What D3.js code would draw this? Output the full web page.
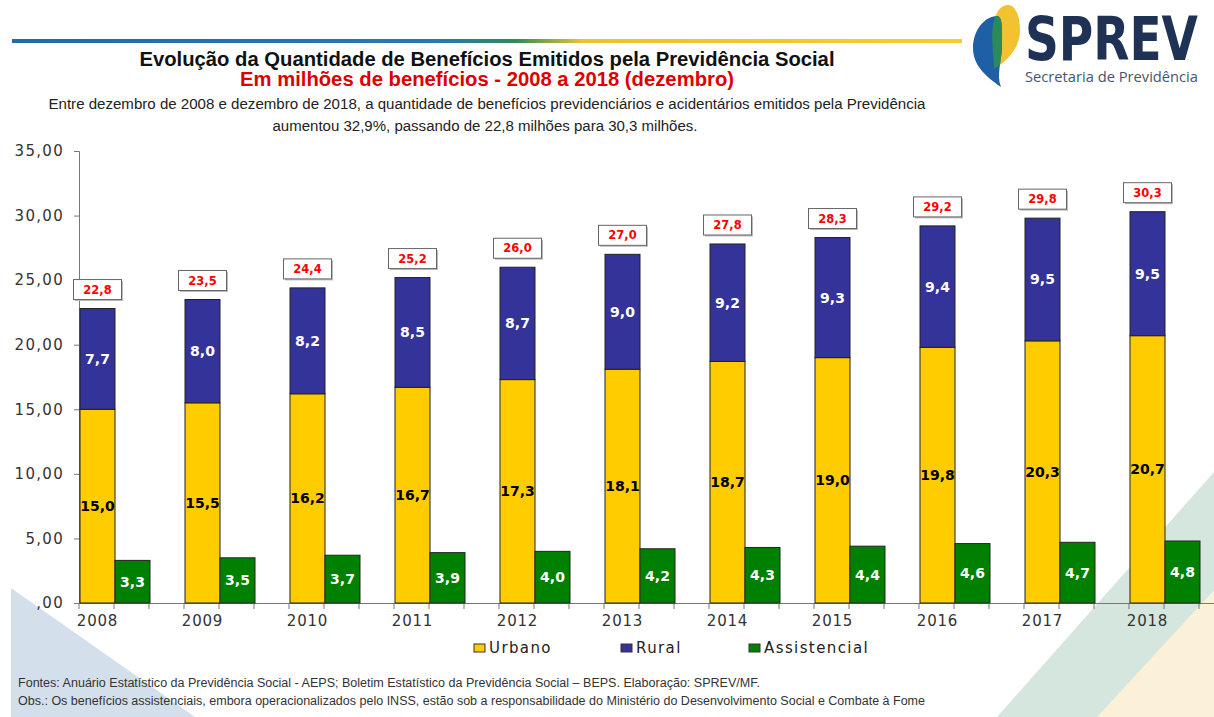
<!DOCTYPE html>
<html><head><meta charset="utf-8">
<script src="https://cdn.jsdelivr.net/npm/d3@7"></script>
<style>html,body{margin:0;padding:0;background:#fff;}svg{display:block;}</style>
</head><body>
<script>
const years = ["2008","2009","2010","2011","2012","2013","2014","2015","2016","2017","2018"];
const urbano = [15.0,15.5,16.2,16.7,17.3,18.1,18.7,19.0,19.8,20.3,20.7];
const rural = [7.7,8.0,8.2,8.5,8.7,9.0,9.2,9.3,9.4,9.5,9.5];
const assistencial = [3.3,3.5,3.7,3.9,4.0,4.2,4.3,4.4,4.6,4.7,4.8];
const totals = [22.8,23.5,24.4,25.2,26.0,27.0,27.8,28.3,29.2,29.8,30.3];
const yTicks = [0,5,10,15,20,25,30,35];
const seriesNames = ["Urbano","Rural","Assistencial"];
const colors = {Urbano:"#FFCC00", Rural:"#333399", Assistencial:"#008000"};

const W=1214,H=717;
const svg=d3.select("body").append("svg").attr("width",W).attr("height",H);
const defs=svg.append("defs");

// background decorations
svg.append("polygon").attr("points","11,588 195,717 11,717").attr("fill","#d3e0eb");
svg.append("polygon").attr("points","1214,472 997,717 1214,717").attr("fill","#d5e6df");
svg.append("polygon").attr("points","1214,590 1097,717 1214,717").attr("fill","#fbf0d8");

// top gradient line
const lg=defs.append("linearGradient").attr("id","topline").attr("x1","0").attr("x2","1");
[["0%","#2468b0"],["44%","#2a76b2"],["53%","#2e8a5a"],["60%","#e8c52a"],["100%","#f6cd2e"]]
  .forEach(s=>lg.append("stop").attr("offset",s[0]).attr("stop-color",s[1]));
svg.append("rect").attr("x",12).attr("y",39).attr("width",950).attr("height",4).attr("fill","url(#topline)");

// logo
const yellowLeaf="M1008 5 C1015 5,1020 15,1020 30 C1020 48,1008 60,994 69 C994 55,990 35,994 20 C997 10,1002 5,1008 5 Z";
const blueLeaf="M997 16 C985 16,973 30,973 48 C973 65,985 76,1001 87 C996 75,1002 60,1002 45 C1002 30,1003 16,997 16 Z";
defs.append("clipPath").attr("id","yclip").append("path").attr("d",yellowLeaf);
svg.append("path").attr("d",yellowLeaf).attr("fill","#f2c230");
svg.append("path").attr("d",blueLeaf).attr("fill","#1f5fa5");
svg.append("path").attr("d",blueLeaf).attr("fill","#2a8a5c").attr("clip-path","url(#yclip)");
svg.append("text").attr("transform","translate(1025,60) scale(1,1.2)").attr("font-family","'DejaVu Sans',sans-serif")
  .attr("font-weight","bold").attr("font-size",50).attr("fill","#1f3155")
  .attr("textLength",173).attr("lengthAdjust","spacingAndGlyphs").text("SPREV");
svg.append("text").attr("x",1025).attr("y",82).attr("font-family","'Open Sans','Noto Sans',sans-serif")
  .attr("font-size",14).attr("fill","#46546f")
  .attr("textLength",173).attr("lengthAdjust","spacingAndGlyphs").text("Secretaria de Previdência");

// titles
const narrow="'Liberation Sans Narrow','Arial Narrow','Liberation Sans',Arial,sans-serif";
function ttext(x,y,txt,size,weight,color,len){
  svg.append("text").attr("x",x).attr("y",y).attr("text-anchor","middle")
   .attr("font-family",narrow).attr("font-size",size).attr("font-weight",weight).attr("fill",color)
   .attr("textLength",len).attr("lengthAdjust","spacingAndGlyphs").text(txt);
}
ttext(487,66,"Evolução da Quantidade de Benefícios Emitidos pela Previdência Social",20,"bold","#111",695);
ttext(487,86,"Em milhões de benefícios - 2008 a 2018 (dezembro)",20,"bold","#dd0000",494);
ttext(487,109,"Entre dezembro de 2008 e dezembro de 2018, a quantidade de benefícios previdenciários e acidentários emitidos pela Previdência",14,"normal","#222",877);
ttext(485,131,"aumentou  32,9%, passando de 22,8 milhões para 30,3 milhões.",14,"normal","#222",425);

// scales
const y=d3.scaleLinear().domain([0,35]).range([603,151]);
const x=d3.scaleBand().domain(years).range([79,79+105*years.length]);
const sub=d3.scaleBand().domain(["stack","assist","gap"]).range([0,x.bandwidth()]);

// y axis
const ya=svg.append("g").attr("transform","translate(79,0)")
  .call(d3.axisLeft(y).tickValues(yTicks).tickSize(5).tickPadding(10)
    .tickFormat(d=> d===0? ",00" : d.toFixed(2).replace(".",",")));
ya.select(".domain").attr("stroke","#777");
ya.selectAll(".tick line").attr("stroke","#777");
ya.selectAll("text").attr("font-family","'DejaVu Sans',Verdana,sans-serif").attr("font-size",15)
  .attr("letter-spacing","1.3px").attr("fill","#333");

// x axis line and ticks
svg.append("line").attr("x1",79).attr("x2",W).attr("y1",603.5).attr("y2",603.5).attr("stroke","#777");
const tickPos=[];
years.forEach(yr=>sub.domain().forEach(s=>tickPos.push(x(yr)+sub(s))));
svg.append("g").selectAll("line").data(tickPos).join("line")
  .attr("x1",d=>d).attr("x2",d=>d).attr("y1",603).attr("y2",609).attr("stroke","#777");
svg.append("g").selectAll("text").data(years).join("text")
  .attr("x",d=>x(d)+sub("stack")+sub.bandwidth()/2+1).attr("y",626).attr("text-anchor","middle")
  .attr("font-family","'DejaVu Sans',Verdana,sans-serif").attr("font-size",15).attr("letter-spacing","0.8px")
  .attr("fill","#333").text(d=>d);

// bars
const data=years.map((yr,i)=>({yr,u:urbano[i],r:rural[i],a:assistencial[i],t:totals[i]}));
const bw=sub.bandwidth();
const g=svg.append("g");
const lblFont="'DejaVu Sans',Verdana,sans-serif";
data.forEach(d=>{
  const xs=x(d.yr)+sub("stack")+1, xa=x(d.yr)+sub("assist")+1;
  const top=d.t;
  g.append("rect").attr("x",xs).attr("width",bw).attr("y",y(d.u)).attr("height",y(0)-y(d.u))
    .attr("fill",colors.Urbano).attr("stroke","#222").attr("stroke-width",1);
  g.append("rect").attr("x",xs).attr("width",bw).attr("y",y(top)).attr("height",y(d.u)-y(top))
    .attr("fill",colors.Rural).attr("stroke","#222").attr("stroke-width",1);
  g.append("rect").attr("x",xa).attr("width",bw).attr("y",y(d.a)).attr("height",y(0)-y(d.a))
    .attr("fill",colors.Assistencial).attr("stroke","#222").attr("stroke-width",1);
  const fmt=v=>v.toFixed(1).replace(".",",");
  g.append("text").attr("x",xs+bw/2).attr("y",y(d.u/2)+5).attr("text-anchor","middle")
    .attr("font-family",lblFont).attr("font-weight","bold").attr("font-size",14).attr("fill","#000").text(fmt(d.u));
  g.append("text").attr("x",xs+bw/2).attr("y",y(d.u+(top-d.u)/2)+5).attr("text-anchor","middle")
    .attr("font-family",lblFont).attr("font-weight","bold").attr("font-size",14).attr("fill","#fff").text(fmt(d.r));
  g.append("text").attr("x",xa+bw/2).attr("y",y(d.a/2)+5).attr("text-anchor","middle")
    .attr("font-family",lblFont).attr("font-weight","bold").attr("font-size",14).attr("fill","#fff").text(fmt(d.a));
  const bx=xs+bw/2-24, by=y(top)-29;
  g.append("rect").attr("x",bx+1.5).attr("y",by+1.5).attr("width",48).attr("height",20).attr("fill","#bbb");
  g.append("rect").attr("x",bx).attr("y",by).attr("width",48).attr("height",20).attr("fill","#fff")
    .attr("stroke","#666").attr("stroke-width",1);
  g.append("text").attr("x",bx+24).attr("y",by+14).attr("text-anchor","middle")
    .attr("font-family",lblFont).attr("font-weight","bold").attr("font-size",11.5).attr("fill","#ff0000").text(fmt(d.t));
});

// legend
const legX={Urbano:474,Rural:621,Assistencial:749};
seriesNames.forEach(n=>{
  svg.append("rect").attr("x",legX[n]).attr("y",644).attr("width",11).attr("height",8)
    .attr("fill",colors[n]).attr("stroke","#333").attr("stroke-width",1);
  svg.append("text").attr("x",legX[n]+15).attr("y",653).attr("font-family",lblFont).attr("font-size",15)
    .attr("letter-spacing","1.4px").attr("fill","#222").text(n);
});

// footer
function ftext(y,txt,len){
  svg.append("text").attr("x",18).attr("y",y).attr("font-family",narrow).attr("font-size",12.5)
   .attr("fill","#333").attr("textLength",len).attr("lengthAdjust","spacingAndGlyphs").text(txt);
}
ftext(687,"Fontes: Anuário Estatístico da Previdência Social - AEPS; Boletim Estatístico da Previdência Social – BEPS. Elaboração: SPREV/MF.",742);
ftext(705,"Obs.: Os benefícios assistenciais, embora operacionalizados pelo INSS, estão sob a responsabilidade do Ministério do Desenvolvimento  Social e Combate à Fome",907);
</script>
</body></html>
